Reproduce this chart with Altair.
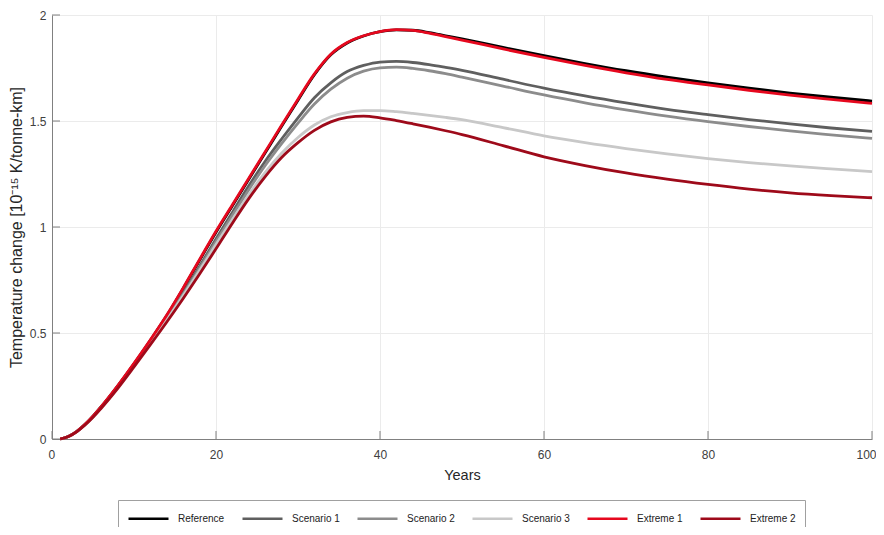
import altair as alt
import pandas as pd

# ---- data ----
years = [1, 2, 3, 4, 5, 6, 8, 10, 12, 14, 16, 18, 20, 22, 24, 26, 28, 30, 32, 34,
         36, 38, 40, 42, 44, 46, 48, 50, 55, 60, 65, 70, 75, 80, 85, 90, 95, 100]

reference = [0, .012, .035, .068, .108, .152, .25, .355, .466, .582, .71, .843, .975,
             1.10, 1.225, 1.35, 1.475, 1.598, 1.718, 1.812, 1.868, 1.901, 1.921, 1.93,
             1.928, 1.917, 1.902, 1.887, 1.847, 1.808, 1.771, 1.737, 1.707, 1.68,
             1.655, 1.632, 1.612, 1.594]
scenario1 = [0, .012, .035, .067, .106, .15, .247, .352, .46, .572, .69, .815, .943,
             1.069, 1.194, 1.31, 1.415, 1.515, 1.61, 1.68, 1.733, 1.762, 1.778, 1.781,
             1.776, 1.766, 1.753, 1.739, 1.697, 1.655, 1.618, 1.585, 1.555, 1.53,
             1.507, 1.486, 1.467, 1.451]
scenario2 = [0, .012, .035, .067, .106, .15, .246, .35, .458, .568, .684, .806, .932,
             1.055, 1.176, 1.29, 1.393, 1.49, 1.58, 1.65, 1.702, 1.735, 1.751, 1.754,
             1.748, 1.737, 1.723, 1.707, 1.665, 1.623, 1.586, 1.553, 1.523, 1.497,
             1.474, 1.453, 1.435, 1.418]
scenario3 = [0, .012, .034, .066, .104, .147, .242, .345, .452, .562, .676, .795, .917,
             1.035, 1.152, 1.258, 1.348, 1.422, 1.481, 1.52, 1.54, 1.549, 1.549, 1.544,
             1.536, 1.527, 1.517, 1.506, 1.469, 1.43, 1.398, 1.37, 1.345, 1.323,
             1.304, 1.288, 1.274, 1.261]
extreme1 = [0, .012, .035, .068, .108, .153, .251, .357, .468, .585, .713, .847, .98,
            1.105, 1.23, 1.355, 1.48, 1.603, 1.722, 1.815, 1.87, 1.902, 1.922, 1.931,
            1.927, 1.914, 1.898, 1.882, 1.84, 1.80, 1.762, 1.727, 1.696, 1.67,
            1.645, 1.622, 1.602, 1.583]
extreme2 = [0, .012, .034, .065, .102, .145, .238, .34, .445, .552, .663, .778, .897,
            1.018, 1.134, 1.238, 1.328, 1.398, 1.456, 1.496, 1.517, 1.523, 1.515, 1.502,
            1.487, 1.471, 1.454, 1.436, 1.384, 1.331, 1.29, 1.255, 1.226, 1.201,
            1.179, 1.161, 1.148, 1.138]

series_names = ["Reference", "Scenario 1", "Scenario 2", "Scenario 3", "Extreme 1", "Extreme 2"]
series_values = [reference, scenario1, scenario2, scenario3, extreme1, extreme2]
series_colors = ["#000000", "#5f5f5f", "#8c8c8c", "#c8c8c8", "#e6081e", "#9e0a1a"]

x_ticks = [0, 20, 40, 60, 80, 100]
y_ticks = [0, 0.5, 1, 1.5, 2]

rows = []
for name, vals in zip(series_names, series_values):
    for yr, v in zip(years, vals):
        rows.append({"series": name, "year": yr, "value": v})
df = pd.DataFrame(rows)

xtick_df = pd.DataFrame({"year": x_ticks})
ytick_df = pd.DataFrame({"value": y_ticks})

FONT = "Liberation Sans"
AXIS_COL = "#808080"

x = alt.X("year:Q",
          scale=alt.Scale(domain=[0, 100], nice=False),
          axis=alt.Axis(values=x_ticks, title="Years", labelPadding=10, titlePadding=8,
                        format="d", labelFlush=True, labelFlushOffset=4,
                        titleFontSize=14.5))
y = alt.Y("value:Q",
          scale=alt.Scale(domain=[0, 2], nice=False),
          axis=alt.Axis(values=y_ticks, title="Temperature change [10⁻¹⁵ K/tonne-km]",
                        labelPadding=6, titlePadding=5, format="~g", labelFlush=False,
                        titleFontSize=16))

color = alt.Color("series:N",
                  scale=alt.Scale(domain=series_names, range=series_colors),
                  title=None,
                  legend=alt.Legend(orient="none", legendX=66, legendY=485,
                                    direction="horizontal",
                                    symbolType="M-1,0H4",
                                    symbolSize=256, symbolStrokeWidth=2.5,
                                    labelOffset=32, columnPadding=12, padding=9,
                                    strokeColor="#a0a0a0", fillColor="#ffffff",
                                    labelFontSize=10, labelFont=FONT,
                                    labelColor="#222222"))

layers = []
for name in series_names:
    layers.append(
        alt.Chart(df)
        .transform_filter(alt.datum.series == name)
        .mark_line(strokeWidth=2.8, interpolate="monotone")
        .encode(x=x, y=y, color=color)
    )

xticks = alt.Chart(xtick_df).mark_rule(color=AXIS_COL, strokeWidth=1).encode(
    x=x, y=alt.value(424), y2=alt.value(416))
yticks = alt.Chart(ytick_df).mark_rule(color=AXIS_COL, strokeWidth=1).encode(
    y=y, x=alt.value(0), x2=alt.value(8))

chart = (
    alt.layer(*layers, xticks, yticks)
    .properties(width=820, height=424,
                padding={"left": 44, "top": 7, "right": 4, "bottom": 88},
                autosize=alt.AutoSizeParams(type="none"))
    .configure_view(strokeWidth=0)
    .configure_axis(domainColor=AXIS_COL, gridColor="#ebebeb", tickSize=0,
                    labelColor="#404040", labelFontSize=12, labelFont=FONT,
                    titleColor="#262626", titleFontSize=14, titleFont=FONT,
                    titleFontWeight="normal", grid=True)
)

chart.save("out.html", embed_options={"renderer": "svg", "actions": False})
